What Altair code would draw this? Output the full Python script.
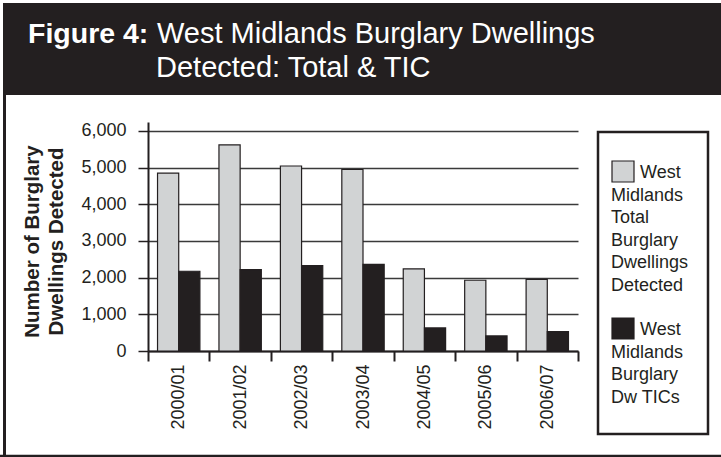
import altair as alt
import pandas as pd

# ---------------- data ----------------
years = ["2000/01", "2001/02", "2002/03", "2003/04", "2004/05", "2005/06", "2006/07"]
total_detected = [4850, 5620, 5045, 4950, 2240, 1930, 1955]
tic_detected = [2175, 2220, 2330, 2365, 630, 410, 530]
series_names = [
    "West Midlands Total Burglary Dwellings Detected",
    "West Midlands Burglary Dw TICs",
]
series_colors = ["#d1d3d4", "#231f20"]
y_tick_values = [0, 1000, 2000, 3000, 4000, 5000, 6000]

title_bold = "Figure 4:"
title_line1 = "West Midlands Burglary Dwellings"
title_line2 = "Detected: Total & TIC"
y_title = ["Number of Burglary", "Dwellings Detected"]
legend_lines_total = ["West", "Midlands", "Total", "Burglary", "Dwellings", "Detected"]
legend_lines_tic = ["West", "Midlands", "Burglary", "Dw TICs"]

rows = []
for yr, t, c in zip(years, total_detected, tic_detected):
    rows.append({"year": yr, "series": series_names[0], "value": t})
    rows.append({"year": yr, "series": series_names[1], "value": c})
df = pd.DataFrame(rows)

FONT = "Liberation Sans"
INK = "#231f20"
W, H = 430, 229
PAD = {"left": 148, "top": 122, "right": 721 - 148 - W, "bottom": 457 - 122 - H}


def one():
    return alt.Data(values=[{"k": 0}])


# ---------------- bars ----------------
bars = alt.Chart(df).mark_bar(stroke=INK, strokeWidth=1.2).encode(
    x=alt.X(
        "year:N",
        sort=years,
        scale=alt.Scale(paddingInner=0, paddingOuter=0),
        axis=alt.Axis(
            title=None,
            labelAngle=-90,
            labelFontSize=18,
            labelFont=FONT,
            labelColor=INK,
            labelPadding=3,
            tickBand="extent",
            tickSize=10,
            tickWidth=2,
            tickColor=INK,
            domainColor=INK,
            domainWidth=2,
            grid=False,
        ),
    ),
    xOffset=alt.XOffset(
        "series:N", sort=series_names, scale=alt.Scale(paddingInner=0, paddingOuter=0.45)
    ),
    y=alt.Y(
        "value:Q",
        scale=alt.Scale(domain=[0, 6245], nice=False, zero=True),
        axis=alt.Axis(
            values=y_tick_values,
            format=",d",
            labelFontSize=18,
            labelFont=FONT,
            labelColor=INK,
            labelPadding=12,
            tickSize=10,
            tickWidth=1.5,
            tickColor=INK,
            domainColor=INK,
            domainWidth=2,
            grid=True,
            gridColor="#3a3a3a",
            gridWidth=1.3,
            title=y_title,
            titleFont=FONT,
            titleFontSize=20.5,
            titleFontWeight="bold",
            titleColor=INK,
            titleAngle=270,
            titleX=-110,
            titleY=119,
            titleAlign="center",
            titleBaseline="alphabetic",
            titleLineHeight=24,
        ),
    ),
    fill=alt.Fill(
        "series:N",
        scale=alt.Scale(domain=series_names, range=series_colors),
        legend=None,
    ),
)

# ---------------- frame & title band ----------------
title_band = alt.Chart(one()).mark_rect(fill=INK).encode(
    x=alt.value(-145), x2=alt.value(573), y=alt.value(-119), y2=alt.value(-27)
)
left_frame = alt.Chart(one()).mark_rule(color=INK, strokeWidth=3).encode(
    x=alt.value(-143.5), y=alt.value(-27), y2=alt.value(335)
)
bottom_frame = alt.Chart(one()).mark_rule(color=INK, strokeWidth=2.5).encode(
    x=alt.value(-148), x2=alt.value(573), y=alt.value(334)
)

t_bold = alt.Chart(one()).mark_text(
    text=title_bold, font=FONT, fontSize=28.5, fontWeight="bold", color="white",
    align="left", baseline="alphabetic",
).encode(x=alt.value(-120), y=alt.value(-79))
t_l1 = alt.Chart(one()).mark_text(
    text=title_line1, font=FONT, fontSize=29, color="white",
    align="left", baseline="alphabetic",
).encode(x=alt.value(9), y=alt.value(-79))
t_l2 = alt.Chart(one()).mark_text(
    text=title_line2, font=FONT, fontSize=29, color="white",
    align="left", baseline="alphabetic",
).encode(x=alt.value(8), y=alt.value(-45))

# ---------------- custom legend ----------------
leg_box = alt.Chart(one()).mark_rect(fill="white", stroke=INK, strokeWidth=2.5).encode(
    x=alt.value(450), x2=alt.value(560), y=alt.value(10), y2=alt.value(312)
)
legend_layers = [leg_box]
groups = [
    (series_colors[0], legend_lines_total, 39, 51.3),
    (series_colors[1], legend_lines_tic, 196, 208),
]
for color, lines, sq_top, first_y in groups:
    legend_layers.append(
        alt.Chart(one()).mark_rect(fill=color, stroke=INK, strokeWidth=1.2).encode(
            x=alt.value(464), x2=alt.value(486), y=alt.value(sq_top), y2=alt.value(sq_top + 21)
        )
    )
    for i, line in enumerate(lines):
        legend_layers.append(
            alt.Chart(one()).mark_text(
                text=line, font=FONT, fontSize=18, color=INK,
                align="left", baseline="middle",
            ).encode(x=alt.value(492 if i == 0 else 463), y=alt.value(first_y + 22.5 * i))
        )

chart = alt.layer(
    title_band, left_frame, bottom_frame, t_bold, t_l1, t_l2, bars, *legend_layers
).properties(
    width=W,
    height=H,
    autosize=alt.AutoSizeParams(type="none"),
    padding=PAD,
    background="white",
).configure_view(stroke=None)

chart.save("out.html", embed_options={"renderer": "svg", "actions": False})
